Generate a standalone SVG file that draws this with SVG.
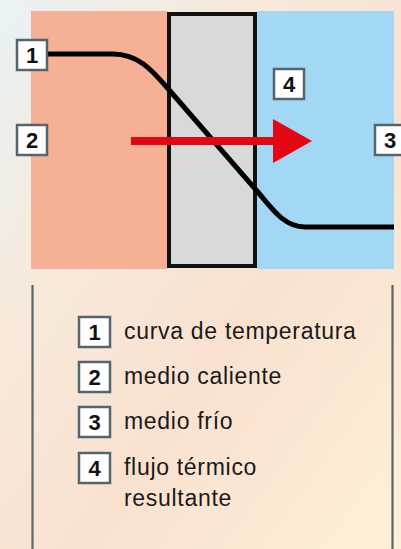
<svg xmlns="http://www.w3.org/2000/svg" width="401" height="549" viewBox="0 0 401 549">
  <defs>
    <linearGradient id="bg" x1="0" y1="0" x2="1" y2="1">
      <stop offset="0" stop-color="#E8F2F5"/>
      <stop offset="0.3" stop-color="#F7EADB"/>
      <stop offset="0.6" stop-color="#F9E1D0"/>
      <stop offset="1" stop-color="#FDF1D8"/>
    </linearGradient>
    <style>
      .box { fill: #FFFFFF; stroke: #55656E; stroke-width: 2.5; }
      .num { font-family: "Liberation Sans", Arial, sans-serif; font-weight: bold; font-size: 22px; fill: #111111; text-anchor: middle; }
      .lbl { font-family: "Liberation Sans", Arial, sans-serif; font-size: 23px; letter-spacing: 0.7px; fill: #1A1A1A; }
      .vline { stroke: #5A6670; stroke-width: 2.2; }
    </style>
  </defs>
  <rect x="0" y="0" width="401" height="549" fill="url(#bg)"/>

  <g id="hot-medium">
    <rect x="31" y="11" width="136" height="258" fill="#F5B096"/>
  </g>
  <g id="cold-medium">
    <rect x="257" y="11" width="137" height="258" fill="#A3D8F5"/>
  </g>
  <g id="wall">
    <rect x="169" y="14" width="86" height="252" fill="#D9D9D9" stroke="#111111" stroke-width="4"/>
  </g>

  <g id="connectors">
    <path d="M48,54 H113 C138,54 152,70 167,87.5 L257,191 C270,206 283,227 305,227 H394" fill="none" stroke="#000000" stroke-width="5"/>
    <line x1="131" y1="141" x2="275" y2="141" stroke="#E30613" stroke-width="8"/>
    <polygon points="273,119 312,141 273,163" fill="#E30613"/>
  </g>

  <g id="label-1">
    <rect class="box" x="17" y="40" width="30" height="30"/>
    <text class="num" x="32" y="63">1</text>
  </g>
  <g id="label-2">
    <rect class="box" x="17" y="125" width="30" height="30"/>
    <text class="num" x="32" y="148">2</text>
  </g>
  <g id="label-4">
    <rect class="box" x="274" y="69" width="30" height="30"/>
    <text class="num" x="289" y="92">4</text>
  </g>
  <g id="label-3">
    <rect class="box" x="375" y="125" width="30" height="30"/>
    <text class="num" x="390" y="148">3</text>
  </g>

  <g id="legend">
    <line class="vline" x1="32.5" y1="285" x2="32.5" y2="549"/>
    <line class="vline" x1="392.5" y1="285" x2="392.5" y2="549"/>
    <g id="legend-1">
      <rect class="box" x="79" y="317" width="31" height="30"/>
      <text class="num" x="94.5" y="340">1</text>
      <text class="lbl" x="124" y="339">curva de temperatura</text>
    </g>
    <g id="legend-2">
      <rect class="box" x="79" y="362" width="31" height="30"/>
      <text class="num" x="94.5" y="385">2</text>
      <text class="lbl" x="124" y="384">medio caliente</text>
    </g>
    <g id="legend-3">
      <rect class="box" x="79" y="407" width="31" height="30"/>
      <text class="num" x="94.5" y="430">3</text>
      <text class="lbl" x="124" y="429">medio frío</text>
    </g>
    <g id="legend-4">
      <rect class="box" x="79" y="453" width="31" height="30"/>
      <text class="num" x="94.5" y="476">4</text>
      <text class="lbl" x="124" y="475">flujo térmico</text>
      <text class="lbl" x="124" y="506">resultante</text>
    </g>
  </g>
</svg>
